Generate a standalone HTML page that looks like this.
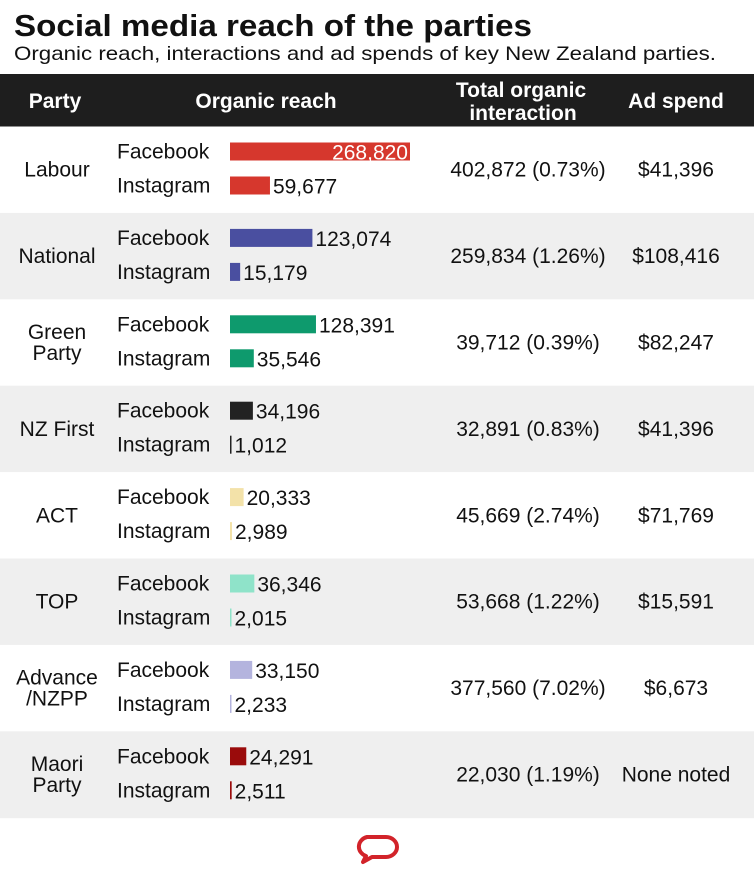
<!DOCTYPE html>
<html><head><meta charset="utf-8"><style>
body{margin:0;background:#fff;font-family:"Liberation Sans",sans-serif;}
svg text{font-family:"Liberation Sans",sans-serif;}
</style></head><body>
<svg id="chart" width="754" height="875" viewBox="0 0 754 875">
<text x="14" y="36" font-size="31" font-weight="bold" fill="#111" textLength="518" lengthAdjust="spacingAndGlyphs">Social media reach of the parties</text>
<text x="14" y="60" font-size="19.5" fill="#111" textLength="702" lengthAdjust="spacingAndGlyphs">Organic reach, interactions and ad spends of key New Zealand parties.</text>
<rect x="0" y="74" width="754" height="53" fill="#1e1e1e"/>
<g fill="#fff" font-weight="bold" font-size="21" text-anchor="middle">
<text x="55" y="108">Party</text>
<text x="266" y="108">Organic reach</text>
<text x="521" y="97">Total organic</text>
<text x="523" y="120">interaction</text>
<text x="676" y="108">Ad spend</text>
</g>
<g id="rows"></g>
<path d="M367 837 h19 a11 10 0 0 1 0 20 h-14 l-9 5 l3 -6 a11 10 0 0 1 1 -19 z" fill="none" stroke="#d2232a" stroke-width="4" stroke-linejoin="round"/>
</svg>
<script>
const parties=[["Labour"],["National"],["Green","Party"],["NZ First"],["ACT"],["TOP"],["Advance","/NZPP"],["Maori","Party"]];
const facebook=[268820,123074,128391,34196,20333,36346,33150,24291];
const instagram=[59677,15179,35546,1012,2989,2015,2233,2511];
const interactions=["402,872 (0.73%)","259,834 (1.26%)","39,712 (0.39%)","32,891 (0.83%)","45,669 (2.74%)","53,668 (1.22%)","377,560 (7.02%)","22,030 (1.19%)"];
const adSpend=["$41,396","$108,416","$82,247","$41,396","$71,769","$15,591","$6,673","None noted"];
const colors=["#d6372d","#4a4fa0","#0e9a6d","#222222","#f3e2a9","#8fe3c9","#b4b4de","#9a0b0b"];
const NS="http://www.w3.org/2000/svg";
const g=document.getElementById('rows');
const x0=230, maxV=268820, maxW=180;
const xs=v=>v/maxV*maxW;
const top0=126.5, rowH=86.4;
const FS=21;
function mk(tag,attrs,txt){const e=document.createElementNS(NS,tag);for(const k in attrs)e.setAttribute(k,attrs[k]);if(txt!==undefined)e.textContent=txt;g.appendChild(e);return e;}
parties.forEach((p,i)=>{
 const y=top0+i*rowH;
 const bg=mk('rect',{x:0,y:y,width:754,height:rowH+0.5,fill:i%2?'#efefef':'#fff'});
 
 
 const cy=y+rowH/2;
 p.forEach((line,j)=>{
  const t=mk('text',{x:57,y:cy+7+(j-(p.length-1)/2)*21,'font-size':FS,'text-anchor':'middle',fill:'#111'},line);
  
  
 });
 [[facebook,'Facebook',25],[instagram,'Instagram',59]].forEach(([arr,lab,off])=>{
  const by=y+off;
  const lt=mk('text',{x:117,y:by+7,'font-size':FS,fill:'#111'},lab);
  
  
  const w=Math.max(xs(arr[i]),1.5);
  const b=mk('rect',{x:x0,y:by-9,width:w,height:18,fill:colors[i]});
  
  
  const s=arr[i].toLocaleString('en-US');
  let vt;
  if(w>150) vt=mk('text',{x:x0+w-2,y:by+8,'font-size':FS,'text-anchor':'end',fill:'#fff'},s);
  else vt=mk('text',{x:x0+w+3,y:by+8,'font-size':FS,fill:'#111'},s);
  
  
 });
 const it=mk('text',{x:528,y:cy+7,'font-size':FS,'text-anchor':'middle',fill:'#111'},interactions[i]);
 
 
 const at=mk('text',{x:676,y:cy+7,'font-size':FS,'text-anchor':'middle',fill:'#111'},adSpend[i]);
 
 
});
</script>
</body></html>
